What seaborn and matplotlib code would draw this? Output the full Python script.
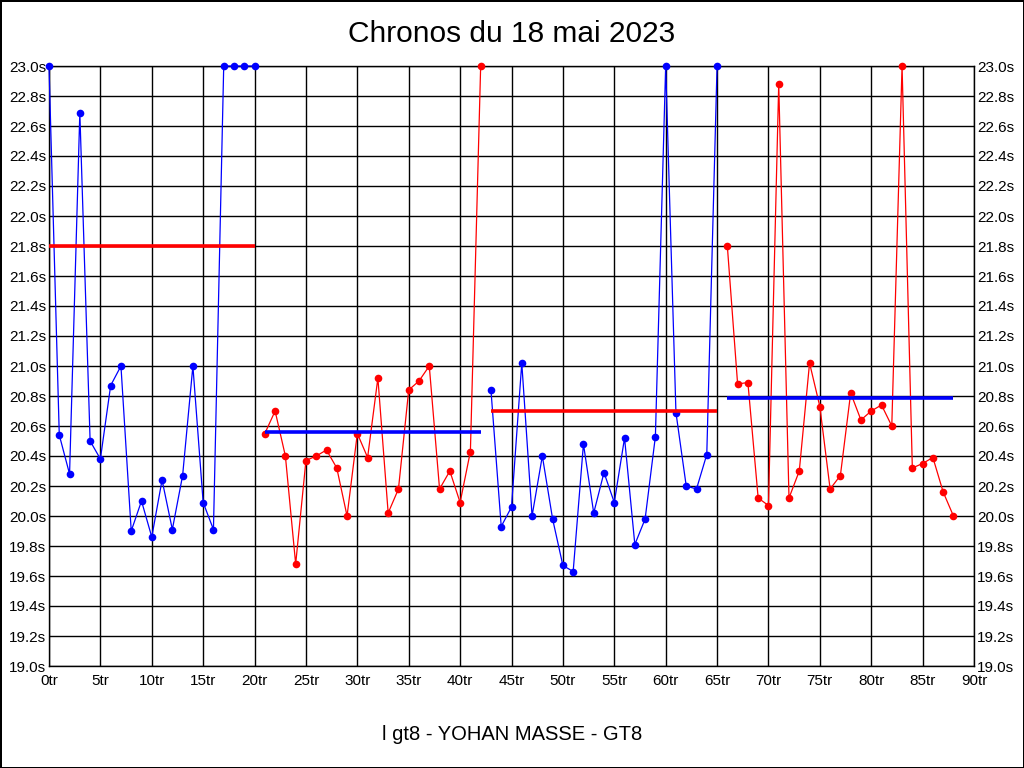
import numpy as np
import pandas as pd
import matplotlib
matplotlib.use("Agg")
import matplotlib.pyplot as plt
from matplotlib.ticker import FuncFormatter, MultipleLocator
import seaborn as sns


# DATA
laps = list(range(0, 89))

lap_times = [
    23.00, 20.54, 20.28, 22.69, 20.50, 20.38, 20.87, 21.00, 19.90, 20.10,
    19.86, 20.24, 19.91, 20.27, 21.00, 20.09, 19.91, 23.00, 23.00, 23.00,
    23.00, 20.55, 20.70, 20.40, 19.68, 20.37, 20.40, 20.44, 20.32, 20.00,
    20.55, 20.39, 20.92, 20.02, 20.18, 20.84, 20.90, 21.00, 20.18, 20.30,
    20.09, 20.43, 23.00, 20.84, 19.93, 20.06, 21.02, 20.00, 20.40, 19.98,
    19.67, 19.63, 20.48, 20.02, 20.29, 20.09, 20.52, 19.81, 19.98, 20.53,
    23.00, 20.69, 20.20, 20.18, 20.41, 23.00, 21.80, 20.88, 20.89, 20.12,
    20.07, 22.88, 20.12, 20.30, 21.02, 20.73, 20.18, 20.27, 20.82, 20.64,
    20.70, 20.74, 20.60, 23.00, 20.32, 20.35, 20.39, 20.16, 20.00,
]

# stints (first lap, last lap) and the average shown for each
stint_start = [0, 21, 43, 66]
stint_end = [20, 42, 65, 88]
stint_avg = [21.80, 20.56, 20.70, 20.79]

title = "Chronos du 18 mai 2023"
driver = "l gt8 - YOHAN MASSE - GT8"

BLUE = "#0000ff"
RED = "#ff0000"
line_colors = [BLUE, RED, BLUE, RED]
avg_colors = [RED, BLUE, RED, BLUE]


# BUILD TABLE
df = pd.DataFrame({"Lap": laps, "Time": lap_times})
df["Stint"] = 0
for i, (s, e) in enumerate(zip(stint_start, stint_end)):
    df.loc[(df["Lap"] >= s) & (df["Lap"] <= e), "Stint"] = i


# PLOT
sns.set_style("white")
plt.rcParams["font.family"] = ["Liberation Sans", "DejaVu Sans"]
plt.rcParams["text.color"] = "black"

fig = plt.figure(figsize=(10.24, 7.68), dpi=100)
fig.patch.set_facecolor("white")
fig.patch.set_edgecolor("black")
fig.patch.set_linewidth(2)

ax = fig.add_axes([49 / 1024, 1 - 666 / 768, 925 / 1024, 600 / 768])

for i in range(len(stint_start)):
    part = df[df["Stint"] == i]
    sns.lineplot(
        data=part, x="Lap", y="Time", ax=ax,
        color=line_colors[i], linewidth=0.9,
        marker="o", markersize=5.5, markeredgewidth=0,
        zorder=3, clip_on=False,
    )
    ax.hlines(stint_avg[i], stint_start[i], stint_end[i],
              colors=avg_colors[i], linewidth=2.6, zorder=4)

ax.set_xlim(0, 90)
ax.set_ylim(19.0, 23.0)
ax.xaxis.set_major_locator(MultipleLocator(5))
ax.yaxis.set_major_locator(MultipleLocator(0.2))
ax.xaxis.set_major_formatter(FuncFormatter(lambda v, p: f"{int(round(v))}tr"))
ax.yaxis.set_major_formatter(FuncFormatter(lambda v, p: f"{v:.1f}s"))

ax.grid(True, color="black", linewidth=1)
ax.set_axisbelow(True)
for sp in ax.spines.values():
    sp.set_color("black")
    sp.set_linewidth(1)

ax.tick_params(axis="both", length=0, labelsize=11, colors="black")
ax.tick_params(axis="y", right=True, labelright=True, pad=2)
ax.tick_params(axis="x", pad=6)
ax.set_xlabel("")
ax.set_ylabel("")

fig.text(0.5, 1 - 34 / 768, title, ha="center", va="center",
         fontsize=21.5, color="black")
fig.text(0.5, 1 - 735 / 768, driver, ha="center", va="center",
         fontsize=14.5, color="black")

fig.savefig("out.png", dpi=100, facecolor=fig.get_facecolor(),
            edgecolor=fig.get_edgecolor())
plt.close(fig)
